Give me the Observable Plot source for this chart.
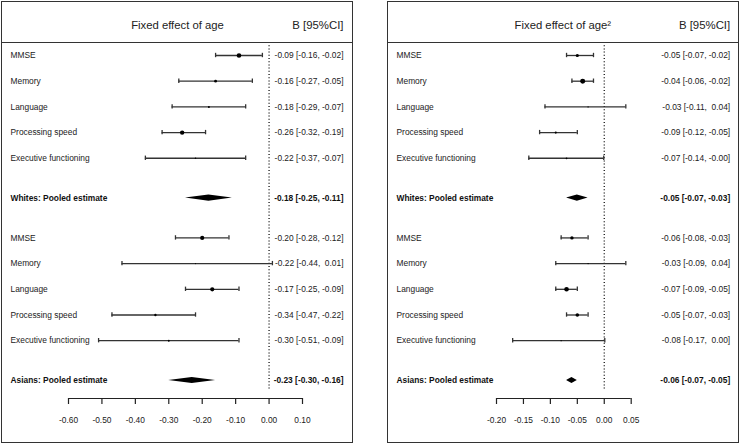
<!DOCTYPE html>
<html>
<head>
<meta charset="utf-8">
<script src="https://cdn.jsdelivr.net/npm/d3@7"></script>
<script src="https://cdn.jsdelivr.net/npm/@observablehq/plot@0.6"></script>
<style>
  body { margin: 0; background: #fff; }
  #wrap { position: relative; width: 740px; height: 444px; font-family: "Liberation Sans", Arial, sans-serif; }
  .panel { position: absolute; box-sizing: border-box; border: 1px solid #333; pointer-events: none; }
  .hline { position: absolute; height: 0; border-top: 1px solid #333; pointer-events: none; }
  .plot { position: absolute; top: 0; }
</style>
</head>
<body>
<div id="wrap">
  <div class="plot" id="p1" style="left:0px"></div>
  <div class="plot" id="p2" style="left:387px"></div>
  <div class="panel" style="left:1px;top:1px;width:352px;height:442px"></div>
  <div class="panel" style="left:387px;top:1px;width:352px;height:442px"></div>
  <div class="hline" style="left:1px;top:42px;width:352px"></div>
  <div class="hline" style="left:387px;top:42px;width:352px"></div>
</div>
<script>
// ---- data ----
const rowLabels = [
  "MMSE", "Memory", "Language", "Processing speed", "Executive functioning", "Whites: Pooled estimate",
  "MMSE", "Memory", "Language", "Processing speed", "Executive functioning", "Asians: Pooled estimate"
];
const pooled = [false, false, false, false, false, true, false, false, false, false, false, true];

// Fixed effect of age
const ageEst = [-0.09, -0.16, -0.18, -0.26, -0.22, -0.18, -0.20, -0.22, -0.17, -0.34, -0.30, -0.23];
const ageLo  = [-0.16, -0.27, -0.29, -0.32, -0.37, -0.25, -0.28, -0.44, -0.25, -0.47, -0.51, -0.30];
const ageHi  = [-0.02, -0.05, -0.07, -0.19, -0.07, -0.11, -0.12, 0.01, -0.09, -0.22, -0.09, -0.16];
const ageWeight = [5.3, 2.0, 1.0, 4.8, 0.6, null, 4.4, 0.3, 4.4, 1.4, 0.9, null];
const ageTicks = [-0.60, -0.50, -0.40, -0.30, -0.20, -0.10, 0.00, 0.10];

// Fixed effect of age^2
const age2Est = [-0.05, -0.04, -0.03, -0.09, -0.07, -0.05, -0.06, -0.03, -0.07, -0.05, -0.08, -0.06];
const age2Lo  = [-0.07, -0.06, -0.11, -0.12, -0.14, -0.07, -0.08, -0.09, -0.09, -0.07, -0.17, -0.07];
const age2Hi  = [-0.02, -0.02, 0.04, -0.05, -0.001, -0.03, -0.03, 0.04, -0.05, -0.03, 0.001, -0.05];
const age2Weight = [2.6, 6.2, 0.4, 1.2, 0.8, null, 2.9, 0.5, 5.3, 3.2, 0.4, null];
const age2Ticks = [-0.20, -0.15, -0.10, -0.05, 0.00, 0.05];

// ---- helpers ----
const fmt = v => (v < 0 ? "-" : "") + Math.abs(v).toFixed(2);
const fmtP = v => (v < 0 ? "-" : "\u00a0") + Math.abs(v).toFixed(2);
// row position in row units: gap of ~1.55 rows around the pooled rows
const rowPos = i => { const g = Math.floor(i / 6), j = i % 6; return g * 7.1 + (j < 5 ? j : 5.55); };
const yTop = -0.506, yAxis = 13.35;
const FONT = '"Liberation Sans", Arial, sans-serif';

function panel({ title, est, lo, hi, weight, ticks, marginLeft, marginRight, labelDx, numDx, titleDx }) {
  const rows = rowLabels.map((label, i) => ({
    label, pooled: pooled[i], est: est[i], lo: lo[i], hi: hi[i], w: weight[i], pos: rowPos(i),
    txt: fmt(est[i]) + " [" + fmt(lo[i]) + ", " + fmtP(hi[i]) + "]"
  }));
  const studies = rows.filter(d => !d.pooled);
  const pools = rows.filter(d => d.pooled);
  const h = 0.12;
  const diamonds = pools.flatMap(d => [
    { row: d.label, x: d.lo, y1: d.pos, y2: d.pos },
    { row: d.label, x: d.est, y1: d.pos - h, y2: d.pos + h },
    { row: d.label, x: d.hi, y1: d.pos, y2: d.pos }
  ]);
  const cap = 0.085;
  return Plot.plot({
    width: 353,
    height: 444,
    marginLeft, marginRight,
    marginTop: 42,
    marginBottom: 46,
    style: { fontFamily: FONT, fontSize: "8.4px", color: "#222", background: "transparent" },
    x: { domain: [ticks[0], ticks[ticks.length - 1]], label: null },
    y: { domain: [yTop, yAxis], reverse: true, axis: null },
    r: { type: "sqrt", domain: [0, 9], range: [0, 3] },
    marks: [
      Plot.ruleX([0], { y1: yTop, y2: yAxis - 0.3, stroke: "#111", strokeWidth: 1.3, strokeDasharray: "1,2.2" }),
      Plot.ruleY(studies, { y: "pos", x1: "lo", x2: "hi", stroke: "#333", strokeWidth: 1.3 }),
      Plot.ruleX(studies, { x: "lo", y1: d => d.pos - cap, y2: d => d.pos + cap, stroke: "#333", strokeWidth: 1.3 }),
      Plot.ruleX(studies, { x: "hi", y1: d => d.pos - cap, y2: d => d.pos + cap, stroke: "#333", strokeWidth: 1.3 }),
      Plot.dot(studies, { x: "est", y: "pos", r: "w", fill: "#000" }),
      Plot.areaY(diamonds, { x: "x", y1: "y1", y2: "y2", z: "row", fill: "#000" }),
      Plot.text(studies, { y: "pos", text: "label", frameAnchor: "left", textAnchor: "start", dx: labelDx, fontSize: 8.4, fill: "#222" }),
      Plot.text(pools, { y: "pos", text: "label", frameAnchor: "left", textAnchor: "start", dx: labelDx, fontSize: 8.4, fontWeight: "bold", fill: "#111" }),
      Plot.text(studies, { y: "pos", text: "txt", frameAnchor: "right", textAnchor: "end", dx: numDx, fontSize: 8.4, fill: "#222" }),
      Plot.text(pools, { y: "pos", text: "txt", frameAnchor: "right", textAnchor: "end", dx: numDx, fontSize: 8.4, fontWeight: "bold", fill: "#111" }),
      Plot.text([title], { frameAnchor: "top", lineAnchor: "middle", dy: -17, dx: titleDx, fontSize: 11.3, fill: "#222" }),
      Plot.text(["B [95%CI]"], { frameAnchor: "top-right", textAnchor: "end", lineAnchor: "middle", dy: -17, dx: numDx, fontSize: 11.4, fill: "#222" }),
      Plot.ruleY([yAxis], { x1: ticks[0], x2: ticks[ticks.length - 1], stroke: "#222", strokeWidth: 1.2 }),
      Plot.axisX({ ticks, tickFormat: fmt, tickSize: 6, tickPadding: 13, label: null, fontSize: 8.4, stroke: "#222", strokeWidth: 1.2, fill: "#222" })
    ]
  });
}

document.getElementById("p1").append(panel({
  title: "Fixed effect of age", est: ageEst, lo: ageLo, hi: ageHi, weight: ageWeight, ticks: ageTicks,
  marginLeft: 68, marginRight: 51, labelDx: -58, numDx: 41, titleDx: -8
}));
document.getElementById("p2").append(panel({
  title: "Fixed effect of age\u00b2", est: age2Est, lo: age2Lo, hi: age2Hi, weight: age2Weight, ticks: age2Ticks,
  marginLeft: 109, marginRight: 109.3, labelDx: -100, numDx: 99, titleDx: -1
}));
</script>
</body>
</html>
